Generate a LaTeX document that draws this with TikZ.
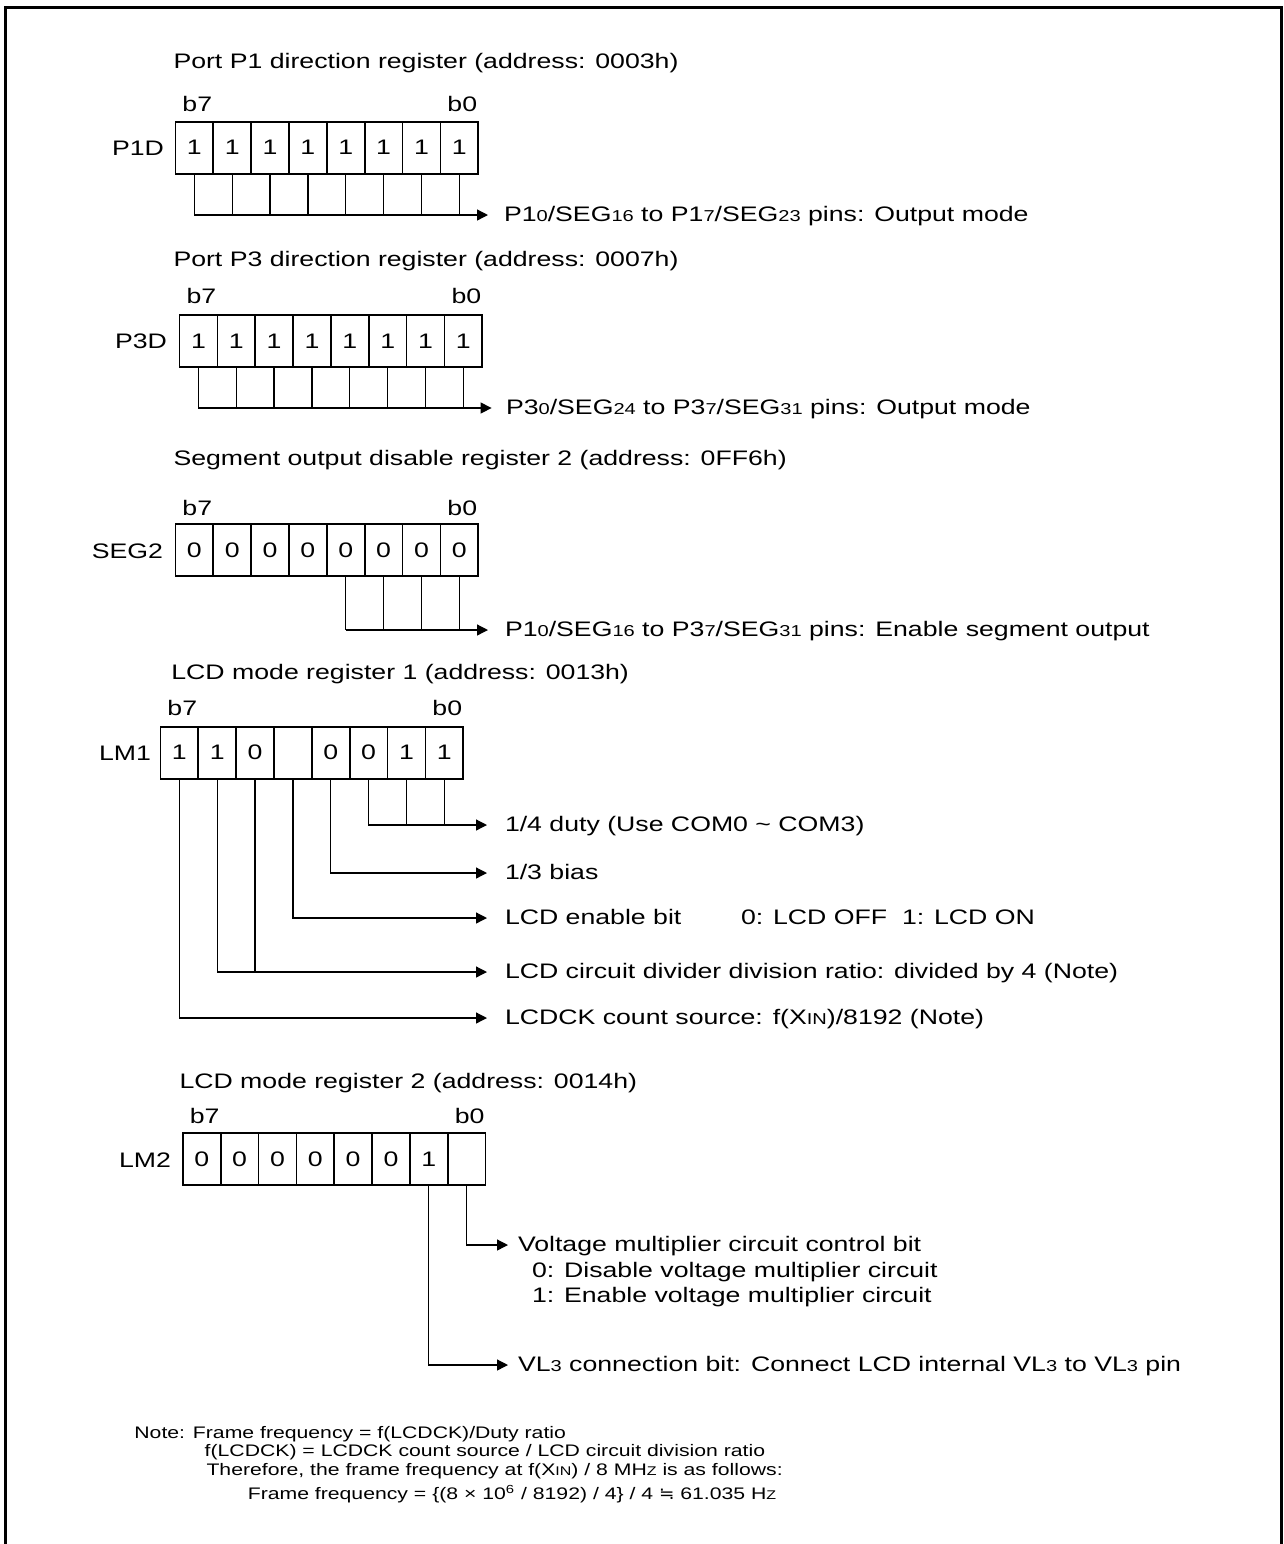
\documentclass[tikz,border=0pt]{standalone}
\usepackage{fontspec}
\setmainfont{Liberation Sans}[FakeStretch=1.27]
\newfontfamily\djv{DejaVu Sans}[FakeStretch=1.1]
\usetikzlibrary{arrows.meta}
\newcommand\mainsz{\fontsize{10.5pt}{12.6pt}\selectfont}
\newcommand\notesz{\fontsize{8.35pt}{10pt}\selectfont}
\newcommand\smd[1]{{\fontsize{7.9pt}{9pt}\selectfont #1}}
\newcommand\nsm[1]{{\fontsize{6.3pt}{7pt}\selectfont #1}}
\begin{document}
\begin{tikzpicture}[x=0.5pt,y=-0.5pt,
  every node/.style={inner sep=0pt,outer sep=0pt},
  ttl/.style={anchor=base west,font=\mainsz},
  txt/.style={anchor=base west,font=\mainsz},
  lbl/.style={anchor=base east,font=\mainsz},
  bitlbl/.style={anchor=base,font=\mainsz},
  cell/.style={draw,line width=0.85pt,minimum width=18.925pt,minimum height=26pt,anchor=north west,font=\mainsz},
  conn/.style={line width=0.65pt},
  arr/.style={conn,-{Triangle[length=5.5pt,width=5.5pt]}},
  frm/.style={line width=1.4pt},
  notetxt/.style={anchor=base west,font=\notesz}]
\useasboundingbox (0,0) rectangle (1284,1544);
\draw[frm] (5.5,1544) -- (5.5,7.3) -- (1281.5,7.3) -- (1281.5,1544);

% ---------- Register 1: P1D
\node[ttl] (t1) at (173.5,68) {Port P1 direction register (address: 0003h)};
\node[bitlbl] (r1b7) at (197.3,111.7) {b7};
\node[bitlbl] (r1b0) at (462.3,111.7) {b0};
\node[lbl] (r1n) at (164,155.4) {P1D};
\foreach \v [count=\i from 0] in {1,1,1,1,1,1,1,1}
  \node[cell] (r1c\i) at ({175.4+37.85*\i},121.7) {\v};
\coordinate (r1h) at (0,215);
\coordinate (r1t) at (488,215);
\foreach \i in {0,...,7}
  \draw[conn] (r1c\i.south) -- (r1c\i.south |- r1h);
\draw[arr] (r1c0.south |- r1h) -- (r1t);
\node[txt] (r1o) at (504,221) {P1\smd{0}/SEG\smd{16} to P1\smd{7}/SEG\smd{23} pins: Output mode};

% ---------- Register 2: P3D
\node[ttl] (t2) at (173.5,266) {Port P3 direction register (address: 0007h)};
\node[bitlbl] (r2b7) at (201.4,303) {b7};
\node[bitlbl] (r2b0) at (466.4,303) {b0};
\node[lbl] (r2n) at (167,348.5) {P3D};
\foreach \v [count=\i from 0] in {1,1,1,1,1,1,1,1}
  \node[cell] (r2c\i) at ({179.5+37.85*\i},315) {\v};
\coordinate (r2h) at (0,408);
\coordinate (r2t) at (491.6,408);
\foreach \i in {0,...,7}
  \draw[conn] (r2c\i.south) -- (r2c\i.south |- r2h);
\draw[arr] (r2c0.south |- r2h) -- (r2t);
\node[txt] (r2o) at (506,414) {P3\smd{0}/SEG\smd{24} to P3\smd{7}/SEG\smd{31} pins: Output mode};

% ---------- Register 3: SEG2
\node[ttl] (t3) at (173.5,465) {Segment output disable register 2 (address: 0FF6h)};
\node[bitlbl] (r3b7) at (197.3,515) {b7};
\node[bitlbl] (r3b0) at (462.3,515) {b0};
\node[lbl] (r3n) at (163,558) {SEG2};
\foreach \v [count=\i from 0] in {0,0,0,0,0,0,0,0}
  \node[cell] (r3c\i) at ({175.4+37.85*\i},524) {\v};
\coordinate (r3h) at (0,630);
\coordinate (r3t) at (488,630);
\foreach \i in {4,...,7}
  \draw[conn] (r3c\i.south) -- (r3c\i.south |- r3h);
\draw[arr] (r3c4.south |- r3h) -- (r3t);
\node[txt] (r3o) at (505,636) {P1\smd{0}/SEG\smd{16} to P3\smd{7}/SEG\smd{31} pins: Enable segment output};

% ---------- Register 4: LM1
\node[ttl] (t4) at (171.4,679) {LCD mode register 1 (address: 0013h)};
\node[bitlbl] (r4b7) at (182.3,715) {b7};
\node[bitlbl] (r4b0) at (447.3,715) {b0};
\node[lbl] (r4n) at (151,760) {LM1};
\foreach \v [count=\i from 0] in {1,1,0,{},0,0,1,1}
  \node[cell] (r4c\i) at ({160.4+37.85*\i},726.7) {\v};
\coordinate (r4t1) at (487,825);
\coordinate (r4t2) at (487,873);
\coordinate (r4t3) at (487,918);
\coordinate (r4t4) at (487,972);
\coordinate (r4t5) at (487,1018);
\foreach \i in {6,7}
  \draw[conn] (r4c\i.south) -- (r4c\i.south |- r4t1);
\draw[arr] (r4c5.south) |- (r4t1);
\draw[arr] (r4c4.south) |- (r4t2);
\draw[arr] (r4c3.south) |- (r4t3);
\draw[conn] (r4c2.south) -- (r4c2.south |- r4t4);
\draw[arr] (r4c1.south) |- (r4t4);
\draw[arr] (r4c0.south) |- (r4t5);
\node[txt] (r4o1) at (505,831) {1/4 duty (Use COM0 \textasciitilde{} COM3)};
\node[txt] (r4o2) at (505,879) {1/3 bias};
\node[txt] (r4o3) at (505,924) {LCD enable bit};
\node[txt] (r4o3b) at (741,924) {0: LCD OFF\ \ 1: LCD ON};
\node[txt] (r4o4) at (505,978) {LCD circuit divider division ratio: divided by 4 (Note)};
\node[txt] (r4o5) at (505,1024) {LCDCK count source: f(X\smd{IN})/8192 (Note)};

% ---------- Register 5: LM2
\node[ttl] (t5) at (179.5,1088) {LCD mode register 2 (address: 0014h)};
\node[bitlbl] (r5b7) at (204.7,1123) {b7};
\node[bitlbl] (r5b0) at (469.7,1123) {b0};
\node[lbl] (r5n) at (171,1167) {LM2};
\foreach \v [count=\i from 0] in {0,0,0,0,0,0,1,{}}
  \node[cell] (r5c\i) at ({182.8+37.85*\i},1133.3) {\v};
\coordinate (r5t1) at (508,1245);
\coordinate (r5t2) at (508,1365);
\draw[arr] (r5c7.south) |- (r5t1);
\draw[arr] (r5c6.south) |- (r5t2);
\node[txt] (r5o1) at (518,1251) {Voltage multiplier circuit control bit};
\node[txt] (r5o1a) at (532,1277) {0: Disable voltage multiplier circuit};
\node[txt] (r5o1b) at (532,1302) {1: Enable voltage multiplier circuit};
\node[txt] (r5o2) at (518,1371) {VL\smd{3} connection bit: Connect LCD internal VL\smd{3} to VL\smd{3} pin};

% ---------- Note
\node[notetxt] (n1) at (134.4,1438) {Note: Frame frequency = f(LCDCK)/Duty ratio};
\node[notetxt] (n2) at (204.7,1456) {f(LCDCK) = LCDCK count source / LCD circuit division ratio};
\node[notetxt] (n3) at (206.5,1475) {Therefore, the frame frequency at f(X\nsm{IN}) / 8 MH\nsm{Z} is as follows:};
\node[notetxt] (n4) at (247.8,1499) {Frame frequency = \{(8 × 10\textsuperscript{6} / 8192) / 4\} / 4 {\djv ≒} 61.035 H\nsm{Z}};
\end{tikzpicture}
\end{document}
